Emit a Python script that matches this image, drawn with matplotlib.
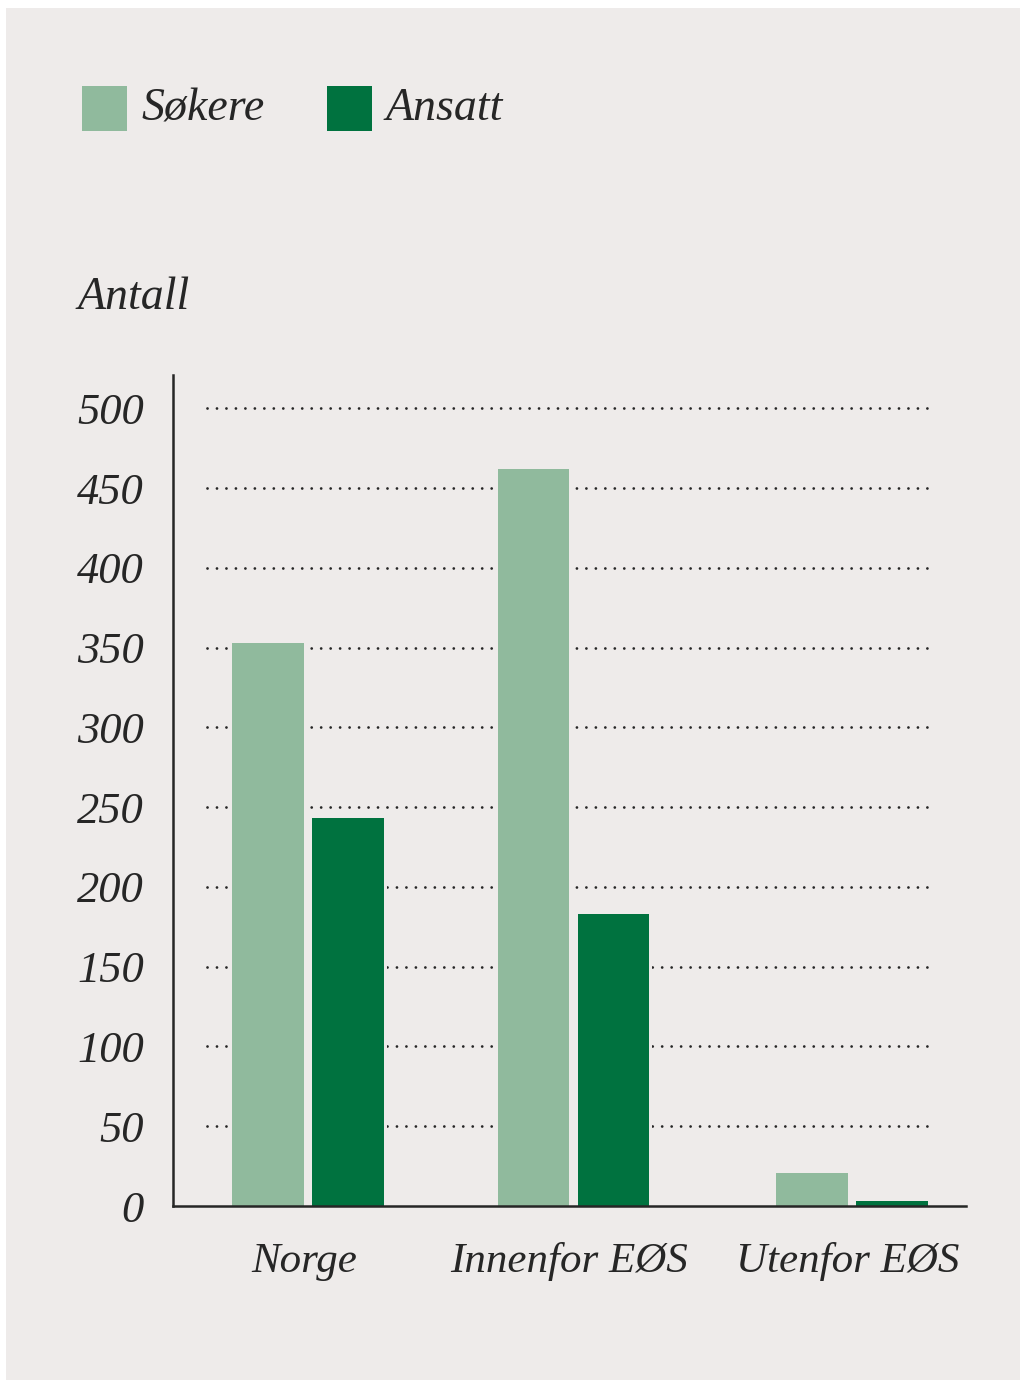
import numpy as np
import matplotlib.pyplot as plt
from matplotlib.patches import Rectangle

# data
categories = ['Norge', 'Innenfor EØS', 'Utenfor EØS']
sokere = [353, 462, 21]
ansatt = [243, 183, 3]
series_names = ['Søkere', 'Ansatt']
yticks = [0, 50, 100, 150, 200, 250, 300, 350, 400, 450, 500]

bg = '#eeebea'
light_green = '#90ba9d'
dark_green = '#00723f'
ink = '#262626'
font = dict(family='Liberation Serif', style='italic')

fig = plt.figure(figsize=(10.22, 13.85), dpi=100, facecolor='white')
fig.add_artist(Rectangle((6 / 1022, 5 / 1385), 1014 / 1022, 1372 / 1385,
                         transform=fig.transFigure, facecolor=bg,
                         edgecolor='none', zorder=0))

ax = fig.add_axes([173 / 1022, 179 / 1385, 793 / 1022, 831 / 1385])
ax.set_facecolor('none')

x = np.array([0.0, 0.976, 2.0])
width = 0.262
off = 0.147

# dotted grid lines, only over the plotting span
ax.hlines(yticks[1:], -0.37, 2.28, colors=ink, linestyles=(0, (0.01, 3.4)),
          linewidth=2.0, capstyle='round', zorder=1)

# background-coloured bars leave a small gap in the grid lines
for vals, sign in ((sokere, -1), (ansatt, 1)):
    ax.bar(x + sign * off, vals, width + 0.025, color=bg, zorder=2)
ax.bar(x - off, sokere, width, color=light_green, zorder=3)
ax.bar(x + off, ansatt, width, color=dark_green, zorder=3)

ax.set_xlim(-0.496, 2.419)
ax.set_ylim(0, 521)
ax.set_yticks(yticks)
ax.set_yticklabels([str(v) for v in yticks], fontsize=32, color=ink, **font)
ax.set_xticks(x - 0.015)
ax.set_xticklabels(categories, fontsize=31, color=ink, **font)
ax.tick_params(axis='both', length=0)
ax.tick_params(axis='y', pad=21)
ax.tick_params(axis='x', pad=26)

for s in ('top', 'right'):
    ax.spines[s].set_visible(False)
for s in ('left', 'bottom'):
    ax.spines[s].set_color(ink)
    ax.spines[s].set_linewidth(1.8)
    ax.spines[s].set_zorder(5)

fig.text(78 / 1022, 1 - 298 / 1385, 'Antall', fontsize=33, color=ink,
         va='center', ha='left', **font)

# legend
for name, col, x0 in zip(series_names, [light_green, dark_green], [82, 327]):
    fig.add_artist(Rectangle((x0 / 1022, 1 - 131 / 1385), 45 / 1022, 45 / 1385,
                             transform=fig.transFigure, facecolor=col,
                             edgecolor='none'))
    fig.text((x0 + 59) / 1022, 1 - 109 / 1385, name, fontsize=33, color=ink,
             va='center', ha='left', **font)

fig.savefig('out.png', dpi=100, facecolor='white')
